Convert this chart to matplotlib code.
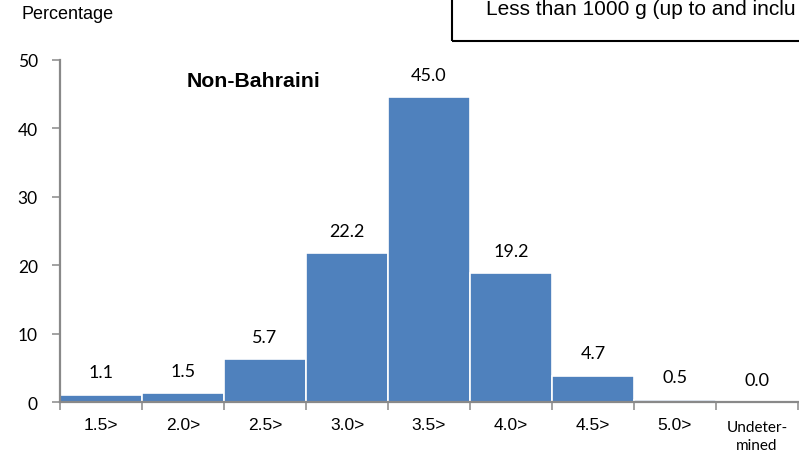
import matplotlib
matplotlib.use("Agg")
import matplotlib.pyplot as plt
from matplotlib.patches import Rectangle
from matplotlib.transforms import blended_transform_factory

# 체중 구간 (kg) 및 비율
categories = ["1.5>", "2.0>", "2.5>", "3.0>", "3.5>", "4.0>", "4.5>", "5.0>", "Undeter-\nmined"]
bar_heights = [1.07, 1.26, 6.3, 21.8, 44.6, 18.8, 3.85, 0.35, 0.0]
label_values = ["1.1", "1.5", "5.7", "22.2", "45.0", "19.2", "4.7", "0.5", "0.0"]
y_ticks = [0, 10, 20, 30, 40, 50]

bar_color = "#4F81BD"
axis_color = "#898989"

fig = plt.figure(figsize=(7.99, 4.60), dpi=100)
ax = fig.add_axes([0.0751, 0.1239, 0.9236, 0.7435])

x = list(range(len(categories)))
bars = ax.bar(x, bar_heights, width=1.0, color=bar_color, edgecolor="white", linewidth=1.2)

# 막대 위 값 표시
for rect, lab in zip(bars, label_values):
    ax.annotate(lab, (rect.get_x() + rect.get_width() / 2, rect.get_height()),
                xytext=(0, 16), textcoords="offset points",
                ha="center", va="center", fontsize=13, family=["Lato", "DejaVu Sans"])

ax.set_xlim(-0.5, len(categories) - 0.5)
ax.set_ylim(0, 50)
ax.set_yticks(y_ticks)
ax.set_yticklabels([str(v) for v in y_ticks], fontsize=12.5, family=["Lato", "DejaVu Sans"])

# 경계에 눈금, 라벨은 직접 가운데에
ax.set_xticks([i - 0.5 for i in range(len(categories) + 1)])
ax.set_xticklabels([])
trans = blended_transform_factory(ax.transData, ax.transAxes)
for i, cat in enumerate(categories):
    if i == len(categories) - 1:
        ax.text(i, -0.054, cat, transform=trans, ha="center", va="top", fontsize=11,
                family=["Lato", "DejaVu Sans"], linespacing=1.35)
    else:
        ax.text(i, -0.066, cat, transform=trans, ha="center", va="center", fontsize=12.5,
                family=["Liberation Sans", "DejaVu Sans"])
ax.tick_params(axis="x", length=6, width=1.1, color=axis_color, direction="out")
ax.tick_params(axis="y", length=6, width=1.1, color=axis_color, direction="out", pad=10)

for side in ["top", "right"]:
    ax.spines[side].set_visible(False)
for side in ["left", "bottom"]:
    ax.spines[side].set_color(axis_color)
    ax.spines[side].set_linewidth(1.6)

fig.text(0.0275, 0.958, "Percentage", fontsize=13, family=["Liberation Sans", "DejaVu Sans"],
         va="baseline", ha="left")
fig.text(0.234, 0.8115, "Non-Bahraini", fontsize=15.3, fontweight="bold",
         family=["Liberation Sans", "DejaVu Sans"], va="baseline", ha="left")

# 오른쪽 위 설명 상자 (오른쪽 끝에서 잘림)
box = Rectangle((0.5653, 0.9093), 0.6, 0.2, transform=fig.transFigure,
                fill=False, edgecolor="black", linewidth=1.5)
fig.patches.append(box)
fig.text(0.6079, 0.967, "Less than 1000 g (up to and inclu", fontsize=15,
         family=["Liberation Sans", "DejaVu Sans"], va="baseline", ha="left")

plt.savefig("out.png", dpi=100)
